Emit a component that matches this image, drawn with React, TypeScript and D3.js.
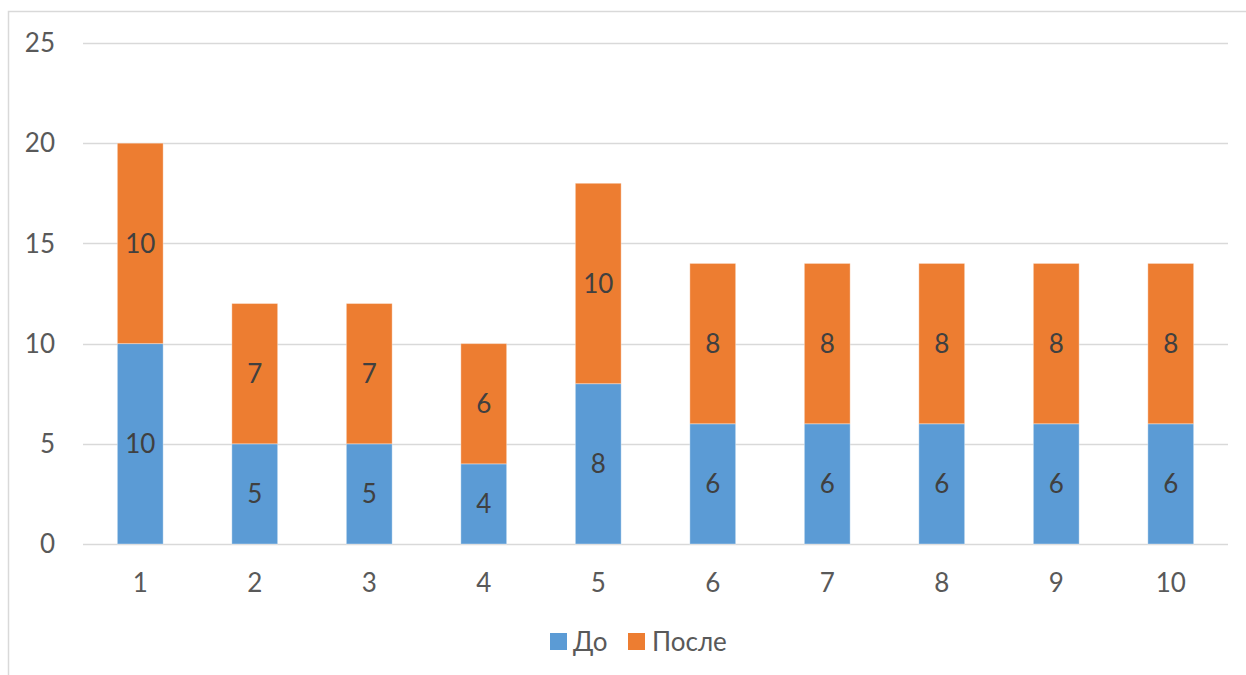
import React from "react";
import * as d3 from "d3";

const categories = ["1", "2", "3", "4", "5", "6", "7", "8", "9", "10"];
const before = [10, 5, 5, 4, 8, 6, 6, 6, 6, 6];
const after = [10, 7, 7, 6, 10, 8, 8, 8, 8, 8];
const seriesNames = ["До", "После"];
const yTicks = [0, 5, 10, 15, 20, 25];

const W = 1246;
const H = 675;
const colors = ["#5B9BD5", "#ED7D31"];
const font = "Lato, 'Open Sans', sans-serif";
const fs = 26;

export default function App() {
  const left = 83;
  const right = 1228;
  const top = 43;
  const bottom = 544;
  const x = d3.scaleBand<string>().domain(categories).range([left, right]).paddingInner(0.6).paddingOuter(0.3);
  const y = d3.scaleLinear().domain([0, 25]).range([bottom, top]);
  const stackData = categories.map((c, i) => ({ c, b: before[i], a: after[i] }));
  const stack = d3.stack<any>().keys(["b", "a"])(stackData);

  return (
    <svg width={W} height={H} style={{ position: "absolute", left: 0, top: 0 }} fontFamily={font}>
      <rect x={0} y={0} width={W} height={H} fill="#fff" />
      <rect x={8.5} y={11.5} width={W + 10} height={H + 10} fill="none" stroke="#D9D9D9" strokeWidth={1.5} />
      {yTicks.map((t) => (
        <g key={t}>
          <line x1={left} x2={right} y1={Math.round(y(t)) + 0.5} y2={Math.round(y(t)) + 0.5} stroke="#D9D9D9" strokeWidth={1.5} />
          <text x={55} y={y(t)} dy="0.35em" textAnchor="end" fontSize={fs} fill="#595959">{t}</text>
        </g>
      ))}
      {stack.map((s, si) => (
        <g key={si}>
          {s.map((d, i) => (
            <g key={i}>
              <rect x={x(categories[i])} y={y(d[1])} width={x.bandwidth()} height={y(d[0]) - y(d[1])} fill={colors[si]} stroke="#fff" strokeOpacity={0.35} strokeWidth={1} />
              <text x={(x(categories[i]) as number) + x.bandwidth() / 2} y={(y(d[0]) + y(d[1])) / 2} dy="0.35em" textAnchor="middle" fontSize={fs} fill="#404040">
                {d[1] - d[0]}
              </text>
            </g>
          ))}
        </g>
      ))}
      {categories.map((c) => (
        <text key={c} x={(x(c) as number) + x.bandwidth() / 2} y={583} dy="0.35em" textAnchor="middle" fontSize={fs} fill="#595959">{c}</text>
      ))}
      <g>
        <rect x={550} y={633} width={17} height={17} fill={colors[0]} />
        <text x={573} y={642} dy="0.35em" fontSize={fs} fill="#595959">{seriesNames[0]}</text>
        <rect x={628} y={633} width={17} height={17} fill={colors[1]} />
        <text x={652} y={642} dy="0.35em" fontSize={fs} fill="#595959">{seriesNames[1]}</text>
      </g>
    </svg>
  );
}
